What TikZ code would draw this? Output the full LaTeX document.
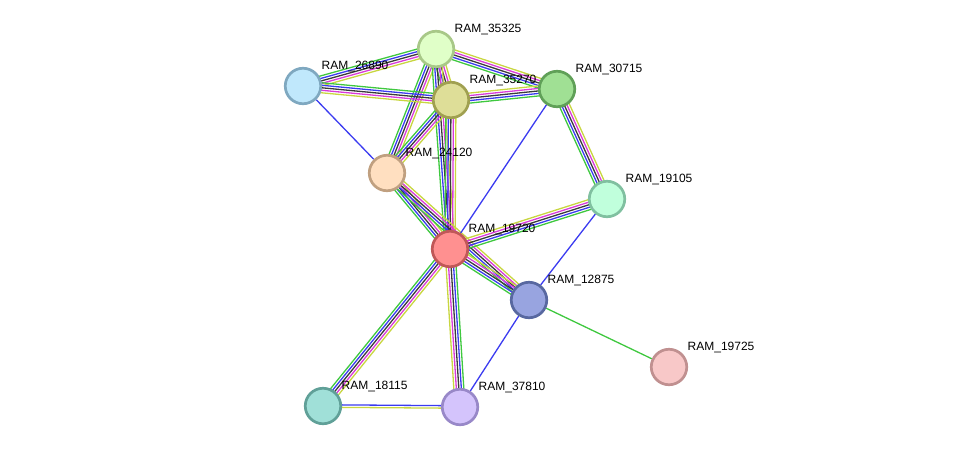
\documentclass[tikz,border=0pt]{standalone}
\usepackage{fontspec}
\setmainfont{Liberation Sans}
\usepackage{xcolor}
\usetikzlibrary{calc,positioning,backgrounds}

\definecolor{cgreen}{HTML}{3FC83F}
\definecolor{cblue}{HTML}{3B3BF0}
\definecolor{cblack}{HTML}{3A3A3A}
\definecolor{cmagenta}{HTML}{D93BD9}
\definecolor{cyellow}{HTML}{C8D640}

% parallel evidence lines between two proteins
\newcommand{\stringedge}[4]{%
  \foreach \col [count=\i] in {#4}{
    \pgfmathsetmacro{\off}{(\i-(#3+1)/2)*2.5}
    \draw[\col,edge] ($(#1)!\off pt!90:(#2)$) -- ($(#2)!\off pt!-90:(#1)$);
  }}

\begin{document}
\begin{tikzpicture}[x=1pt,y=-1pt, prot/.style={circle,line width=2.7pt,minimum size=35.5pt,inner sep=0pt}, lab/.style={font=\fontsize{12}{14}\selectfont,inner sep=0pt}, edge/.style={line width=1.3pt}]
\useasboundingbox (0,0) rectangle (976,453);
\node[prot,fill={rgb,255:red,224;green,255;blue,200},draw={rgb,255:red,168;green,200;blue,136}] (n35325) at (436,49) {};
\node[prot,fill={rgb,255:red,192;green,232;blue,252},draw={rgb,255:red,127;green,168;blue,192}] (n26890) at (303,86) {};
\node[prot,fill={rgb,255:red,222;green,222;blue,152},draw={rgb,255:red,160;green,160;blue,80}] (n35270) at (451,100) {};
\node[prot,fill={rgb,255:red,160;green,224;blue,148},draw={rgb,255:red,96;green,160;blue,88}] (n30715) at (557,89) {};
\node[prot,fill={rgb,255:red,255;green,223;blue,192},draw={rgb,255:red,192;green,160;blue,128}] (n24120) at (387,173) {};
\node[prot,fill={rgb,255:red,192;green,255;blue,220},draw={rgb,255:red,128;green,192;blue,160}] (n19105) at (607,199) {};
\node[prot,fill={rgb,255:red,255;green,144;blue,144},draw={rgb,255:red,192;green,88;blue,88}] (n19720) at (450,249) {};
\node[prot,fill={rgb,255:red,152;green,164;blue,224},draw={rgb,255:red,88;green,104;blue,160}] (n12875) at (529,300) {};
\node[prot,fill={rgb,255:red,248;green,200;blue,200},draw={rgb,255:red,192;green,144;blue,144}] (n19725) at (669,367) {};
\node[prot,fill={rgb,255:red,160;green,224;blue,216},draw={rgb,255:red,96;green,160;blue,152}] (n18115) at (323,406) {};
\node[prot,fill={rgb,255:red,212;green,196;blue,252},draw={rgb,255:red,152;green,136;blue,200}] (n37810) at (460,407) {};

\node[lab,above right=0pt and 5pt of n35325] (l35325) {RAM\_35325};
\node[lab,above right=0pt and 5pt of n26890] (l26890) {RAM\_26890};
\node[lab,above right=0pt and 5pt of n35270] (l35270) {RAM\_35270};
\node[lab,above right=0pt and 5pt of n30715] (l30715) {RAM\_30715};
\node[lab,above right=0pt and 5pt of n24120] (l24120) {RAM\_24120};
\node[lab,above right=0pt and 5pt of n19105] (l19105) {RAM\_19105};
\node[lab,above right=0pt and 5pt of n19720] (l19720) {RAM\_19720};
\node[lab,above right=0pt and 5pt of n12875] (l12875) {RAM\_12875};
\node[lab,above right=0pt and 5pt of n19725] (l19725) {RAM\_19725};
\node[lab,above right=0pt and 5pt of n18115] (l18115) {RAM\_18115};
\node[lab,above right=0pt and 5pt of n37810] (l37810) {RAM\_37810};

\begin{scope}[on background layer]
\stringedge{n35325}{n26890}{5}{cgreen,cblue,cblack,cmagenta,cyellow}
\stringedge{n35325}{n35270}{5}{cgreen,cblue,cblack,cmagenta,cyellow}
\stringedge{n35325}{n30715}{5}{cgreen,cblue,cblack,cmagenta,cyellow}
\stringedge{n35325}{n24120}{5}{cgreen,cblue,cblack,cmagenta,cyellow}
\stringedge{n35325}{n19720}{5}{cgreen,cblue,cblack,cmagenta,cyellow}
\stringedge{n35270}{n26890}{5}{cgreen,cblue,cblack,cmagenta,cyellow}
\stringedge{n35270}{n30715}{5}{cgreen,cblue,cblack,cmagenta,cyellow}
\stringedge{n35270}{n24120}{5}{cgreen,cblue,cblack,cmagenta,cyellow}
\stringedge{n35270}{n19720}{5}{cgreen,cblue,cblack,cmagenta,cyellow}
\stringedge{n30715}{n19105}{5}{cgreen,cblue,cblack,cmagenta,cyellow}
\stringedge{n24120}{n19720}{5}{cgreen,cblue,cblack,cmagenta,cyellow}
\stringedge{n24120}{n12875}{5}{cgreen,cblue,cblack,cmagenta,cyellow}
\stringedge{n19720}{n19105}{5}{cgreen,cblue,cblack,cmagenta,cyellow}
\stringedge{n19720}{n12875}{5}{cgreen,cblue,cblack,cmagenta,cyellow}
\stringedge{n19720}{n18115}{5}{cgreen,cblue,cblack,cmagenta,cyellow}
\stringedge{n37810}{n19720}{5}{cgreen,cblue,cblack,cmagenta,cyellow}
\stringedge{n18115}{n37810}{2}{cyellow,cblue}
\draw[cblue,edge] (n26890) -- (n24120);
\draw[cblue,edge] (n30715) -- (n19720);
\draw[cblue,edge] (n19105) -- (n12875);
\draw[cblue,edge] (n12875) -- (n37810);
\draw[cgreen,edge] (n12875) -- (n19725);
\end{scope}
\end{tikzpicture}
\end{document}
